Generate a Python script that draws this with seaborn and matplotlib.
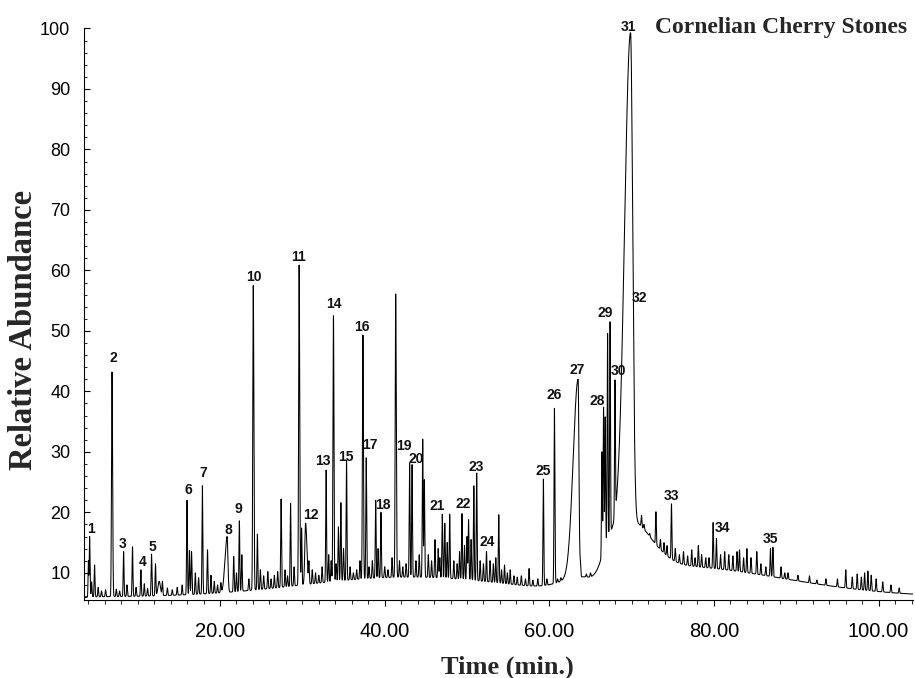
import numpy as np
import pandas as pd
import seaborn as sns
import matplotlib.pyplot as plt
from matplotlib.ticker import MultipleLocator, FixedLocator

# Main peaks: retention time (min), apex (% rel. abundance),
# left / right peak half-widths (min)
peak_time = [4.01, 4.16, 4.76, 6.88, 8.29, 9.37, 10.39, 11.68, 12.16, 12.61,
             15.99, 16.29, 16.54, 17.86, 18.48, 20.86, 21.66, 22.35, 22.65, 24.04,
             24.54, 27.42, 28.57, 29.61, 29.91, 30.40, 32.89, 33.78, 34.38, 34.68,
             35.37, 37.36, 37.76, 38.91, 39.55, 41.34, 43.03, 43.33, 44.62, 44.82,
             46.11, 47.00, 47.30, 47.90, 49.39, 50.19, 50.83, 51.18, 52.37, 53.86,
             54.56, 55.25, 57.54, 59.28, 60.62, 63.50, 63.78, 66.39, 66.59, 66.79,
             67.08, 67.38, 67.98, 69.87, 70.22, 72.95, 73.94, 74.84, 78.10, 79.90,
             80.30, 86.86, 87.16, 88.15, 96.01]
peak_apex = [12.0, 16.0, 11.3, 43.2, 13.5, 14.3, 10.5, 13.1, 11.5, 8.6,
             22.0, 13.7, 13.5, 24.4, 13.8, 16.0, 12.7, 18.6, 13.0, 57.5,
             16.4, 22.2, 21.5, 60.9, 17.4, 18.2, 27.0, 52.5, 17.6, 21.6,
             28.6, 49.3, 29.0, 22.0, 20.0, 56.1, 28.2, 27.9, 32.1, 25.4,
             15.5, 19.7, 18.2, 19.7, 19.8, 18.8, 24.4, 26.5, 13.5, 19.6,
             11.3, 10.5, 10.7, 25.5, 37.2, 42.0, 12.0, 30.0, 37.4, 35.8,
             49.6, 51.5, 41.9, 99.3, 54.4, 20.1, 15.0, 21.4, 14.5, 18.3,
             15.7, 14.0, 14.2, 11.0, 10.5]
peak_left = [0.04, 0.04, 0.05, 0.06, 0.05, 0.05, 0.05, 0.05, 0.05, 0.15,
             0.05, 0.05, 0.05, 0.05, 0.05, 0.25, 0.05, 0.05, 0.05, 0.06,
             0.05, 0.05, 0.05, 0.06, 0.05, 0.10, 0.05, 0.06, 0.05, 0.05,
             0.05, 0.06, 0.05, 0.05, 0.05, 0.06, 0.05, 0.05, 0.05, 0.05,
             0.05, 0.05, 0.05, 0.05, 0.05, 0.05, 0.05, 0.05, 0.05, 0.05,
             0.05, 0.05, 0.05, 0.05, 0.05, 0.60, 0.05, 0.05, 0.05, 0.05,
             0.05, 0.05, 0.05, 0.72, 0.04, 0.05, 0.05, 0.05, 0.05, 0.05,
             0.05, 0.05, 0.05, 0.05, 0.05]
peak_right = [0.05, 0.05, 0.05, 0.07, 0.05, 0.05, 0.05, 0.05, 0.05, 0.15,
              0.05, 0.05, 0.05, 0.05, 0.05, 0.10, 0.05, 0.05, 0.05, 0.07,
              0.05, 0.05, 0.05, 0.07, 0.05, 0.15, 0.05, 0.06, 0.05, 0.05,
              0.05, 0.06, 0.05, 0.05, 0.05, 0.07, 0.05, 0.05, 0.05, 0.05,
              0.05, 0.05, 0.05, 0.05, 0.05, 0.05, 0.05, 0.05, 0.05, 0.05,
              0.05, 0.05, 0.05, 0.05, 0.06, 0.10, 0.05, 0.05, 0.05, 0.05,
              0.05, 0.05, 0.05, 0.26, 0.04, 0.05, 0.05, 0.05, 0.05, 0.05,
              0.05, 0.05, 0.05, 0.05, 0.05]

# small unlabelled peaks ("grass") between the main ones
grass_time = [4.4, 5.2, 5.6, 6.1, 7.4, 7.8, 8.7, 9.8, 10.8, 11.2, 13.0, 13.6, 14.2,
              14.8, 15.4, 17.0, 17.4, 18.9, 19.3, 19.7, 20.1, 20.5, 22.0, 23.5, 24.9,
              25.3, 25.8, 26.2, 26.6, 27.0, 27.9, 28.2, 29.0, 30.8, 31.2, 31.6, 32.0,
              32.4, 33.2, 33.5, 34.1, 35.0, 35.8, 36.2, 36.6, 37.0, 38.1, 38.5, 39.2,
              40.0, 40.4, 40.9, 41.8, 42.2, 42.6, 43.8, 44.2, 45.3, 45.7, 46.5, 46.7,
              47.6, 48.4, 48.8, 49.1, 49.7, 50.0, 50.5, 51.6, 52.0, 52.8, 53.2, 53.5,
              54.2, 54.9, 55.7, 56.1, 56.6, 57.1, 58.0, 58.6, 59.7, 61.0, 61.4, 64.5,
              65.0, 71.2, 71.5, 72.2, 73.5, 74.3, 75.3, 75.8, 76.3, 76.8, 77.3, 77.7,
              78.5, 79.0, 79.4, 80.8, 81.3, 81.8, 82.3, 82.8, 83.1, 83.6, 84.0, 84.5,
              85.2, 85.7, 86.3, 88.6, 89.0, 90.2, 91.6, 92.5, 93.6, 95.0, 96.8, 97.4,
              97.9, 98.3, 98.7, 99.1, 99.7, 100.5, 101.5, 102.5]
grass_apex = [8.5, 7.6, 7.0, 7.2, 7.3, 7.0, 8.0, 7.6, 8.2, 7.4, 8.6, 7.5, 7.2,
              7.6, 8.0, 10.0, 9.2, 9.6, 8.6, 8.0, 8.4, 9.8, 10.0, 9.0, 10.5,
              9.5, 10.2, 9.0, 9.6, 10.2, 10.5, 9.5, 11.0, 12.0, 10.5, 10.0, 9.6,
              11.0, 13.0, 12.0, 11.5, 14.0, 11.0, 10.0, 10.5, 12.0, 11.0, 12.0, 14.0,
              11.0, 10.5, 12.5, 12.0, 11.0, 11.5, 12.0, 13.0, 13.0, 12.0, 14.0, 12.5,
              15.0, 12.0, 11.5, 13.5, 14.5, 16.0, 15.5, 12.0, 11.5, 12.0, 11.5, 12.5,
              10.5, 10.0, 9.5, 9.3, 9.5, 9.0, 8.8, 9.0, 9.0, 9.0, 9.2, 9.8,
              10.0, 19.5, 18.0, 16.5, 15.5, 14.5, 14.0, 13.0, 13.5, 12.8, 13.8, 12.5,
              13.0, 12.5, 12.5, 13.0, 13.5, 13.0, 12.8, 13.5, 13.8, 12.5, 14.0, 12.5,
              13.5, 11.5, 11.0, 10.0, 10.0, 9.6, 9.5, 8.8, 9.0, 9.0, 9.3, 9.8,
              9.3, 10.0, 10.3, 9.6, 9.0, 8.5, 8.0, 7.5]
grass_width = 0.05

# baseline: flat level plus broad humps (centre, height, left / right width)
base_level = 6.0
hump_time = [43.0, 64.0, 67.3, 69.6, 75.0]
hump_height = [3.3, 2.3, 7.0, 10.0, 5.0]
hump_left = [13.0, 2.5, 1.0, 1.2, 4.0]
hump_right = [13.0, 1.5, 1.0, 2.5, 13.5]

# peak number labels (position)
label_text = [str(i) for i in range(1, 36)]
label_time = [4.36, 7.03, 8.12, 10.55, 11.76, 16.12, 17.94, 20.97, 22.18, 24.12,
              29.58, 31.03, 32.48, 33.82, 35.27, 37.21, 38.18, 39.76, 42.30, 43.88,
              46.42, 49.58, 51.15, 52.48, 59.27, 60.60, 63.39, 65.82, 66.79, 68.36,
              69.58, 70.91, 74.79, 81.05, 86.91]
label_value = [17.2, 45.5, 14.8, 11.8, 14.3, 23.7, 26.5, 17.0, 20.6, 58.9,
               62.2, 19.6, 28.5, 54.5, 29.2, 50.7, 31.2, 21.2, 31.0, 28.8,
               21.1, 21.4, 27.5, 15.1, 26.9, 39.4, 43.6, 38.4, 53.0, 43.4,
               100.2, 55.5, 22.7, 17.4, 15.6]


def peak_shape(t, t0, wl, wr):
    w = np.where(t < t0, wl, wr)
    return np.exp(-0.5 * ((t - t0) / w) ** 2)


def baseline(t):
    b = np.full_like(t, base_level, dtype=float)
    for c, h, wl, wr in zip(hump_time, hump_height, hump_left, hump_right):
        b += h * peak_shape(t, c, wl, wr)
    return b


# build the trace so every peak reaches the apex
pt = np.array(peak_time + grass_time)
pa = np.array(peak_apex + grass_apex)
pl = np.array(peak_left + [grass_width] * len(grass_time))
pr = np.array(peak_right + [grass_width] * len(grass_time))
M = peak_shape(pt[:, None], pt[None, :], pl[None, :], pr[None, :])
amp = np.linalg.solve(M, pa - baseline(pt))
amp = np.clip(amp, 0.2, None)

time = np.arange(3.5, 104.2, 0.004)
signal = baseline(time)
for t0, a, wl, wr in zip(pt, amp, pl, pr):
    near = np.abs(time - t0) < 8 * max(wl, wr)
    signal[near] += a * peak_shape(time[near], t0, wl, wr)

df = pd.DataFrame({"Time": time, "Abundance": signal})

sns.set_style("ticks")
plt.rcParams["font.family"] = ["Liberation Sans", "DejaVu Sans"]

fig = plt.figure(figsize=(9.15, 6.78), dpi=100)
ax = fig.add_axes([0.092, 0.115, 0.906, 0.843])

sns.lineplot(data=df, x="Time", y="Abundance", estimator=None, sort=False,
             color="black", linewidth=0.75, ax=ax)

for txt, tx, vy in zip(label_text, label_time, label_value):
    ax.text(tx, vy, txt, ha="center", va="center", fontsize=10,
            fontweight="bold", color="#111111")

ax.set_xlim(3.5, 104.2)
ax.set_ylim(5.5, 100)
ax.xaxis.set_major_locator(FixedLocator([20, 40, 60, 80, 100]))
ax.set_xticklabels(["20.00", "40.00", "60.00", "80.00", "100.00"])
ax.xaxis.set_minor_locator(MultipleLocator(2))
ax.yaxis.set_major_locator(MultipleLocator(10))
ax.yaxis.set_minor_locator(MultipleLocator(2))
ax.tick_params(axis="x", which="major", direction="out", length=4, width=0.8,
               labelsize=14.5, pad=12, colors="black")
ax.tick_params(axis="x", which="minor", direction="out", length=3, width=0.7)
ax.tick_params(axis="y", which="major", direction="in", length=4, width=0.8,
               labelsize=13, pad=10, colors="black")
ax.tick_params(axis="y", which="minor", direction="in", length=2.5, width=0.7)

sns.despine(ax=ax)
for s in ["left", "bottom"]:
    ax.spines[s].set_linewidth(0.8)
    ax.spines[s].set_color("black")

ax.set_xlabel("Time (min.)", fontsize=19, fontweight="bold",
              family="Liberation Serif")
ax.xaxis.set_label_coords(0.511, -0.097)
ax.set_ylabel("Relative Abundance", fontsize=23.5, fontweight="bold",
              family="Liberation Serif")
ax.yaxis.set_label_coords(-0.054, 0.472)

fig.text(0.991, 0.960, "Cornelian Cherry Stones", ha="right", va="center",
         fontsize=17, fontweight="bold", family="Liberation Serif")

fig.savefig("out.png", dpi=100)
